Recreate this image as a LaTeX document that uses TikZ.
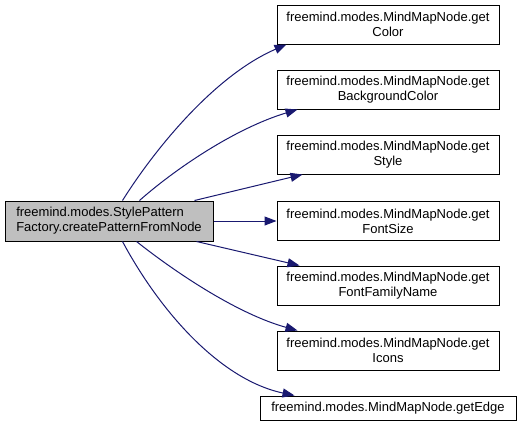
\documentclass[tikz,border=0pt]{standalone}
\usepackage{fontspec}
\setmainfont{Liberation Sans}
\usetikzlibrary{arrows.meta}
\definecolor{edgeblue}{HTML}{191970}

\begin{document}
\begin{tikzpicture}[x=1pt, y=-1pt,
  fn/.style={draw=black, fill=white, line width=1pt, font=\fontsize{13}{15}\selectfont,
    align=center, inner sep=0pt, minimum width=222pt, minimum height=39pt},
  caller/.style={fn, fill=black!25, align=left, minimum width=208pt, minimum height=40pt},
  call/.style={-{Triangle[length=12pt, width=9pt]}, edgeblue, line width=1pt}]
\useasboundingbox (0,0) rectangle (520,429);
\node[caller] (src) at (109,221) {freemind.modes.StylePattern\\Factory.createPatternFromNode};
\node[fn] (color) at (388,24.5) {freemind.modes.MindMapNode.get\\Color};
\node[fn] (bgcolor) at (388,89.5) {freemind.modes.MindMapNode.get\\BackgroundColor};
\node[fn] (style) at (388,154.5) {freemind.modes.MindMapNode.get\\Style};
\node[fn] (fontsize) at (388,221) {freemind.modes.MindMapNode.get\\FontSize};
\node[fn] (family) at (388,285.5) {freemind.modes.MindMapNode.get\\FontFamilyName};
\node[fn] (icons) at (388,350.5) {freemind.modes.MindMapNode.get\\Icons};
\node[fn, minimum width=256pt, minimum height=24pt] (edge) at (388,408) {freemind.modes.MindMapNode.getEdge};
% calls
\draw[call] ([xshift=118pt]src.north west) .. controls +(32,-51) and +(-72,31) .. ([xshift=10pt]color.south west);
\draw[call] ([xshift=135pt]src.north west) .. controls +(35,-31) and +(-63,19) .. ([xshift=21pt]bgcolor.south west);
\draw[call] ([xshift=190pt]src.north west) -- ([xshift=26pt]style.south west);
\draw[call] (src.east) -- (fontsize.west);
\draw[call] ([xshift=192pt]src.south west) -- ([xshift=23pt]family.north west);
\draw[call] ([xshift=132pt]src.south west) .. controls +(43,34) and +(-58,-16) .. ([xshift=21pt]icons.north west);
\draw[call] ([xshift=118pt]src.south west) .. controls +(37,69) and +(-75,-16) .. ([xshift=35pt]edge.north west);
\end{tikzpicture}
\end{document}
